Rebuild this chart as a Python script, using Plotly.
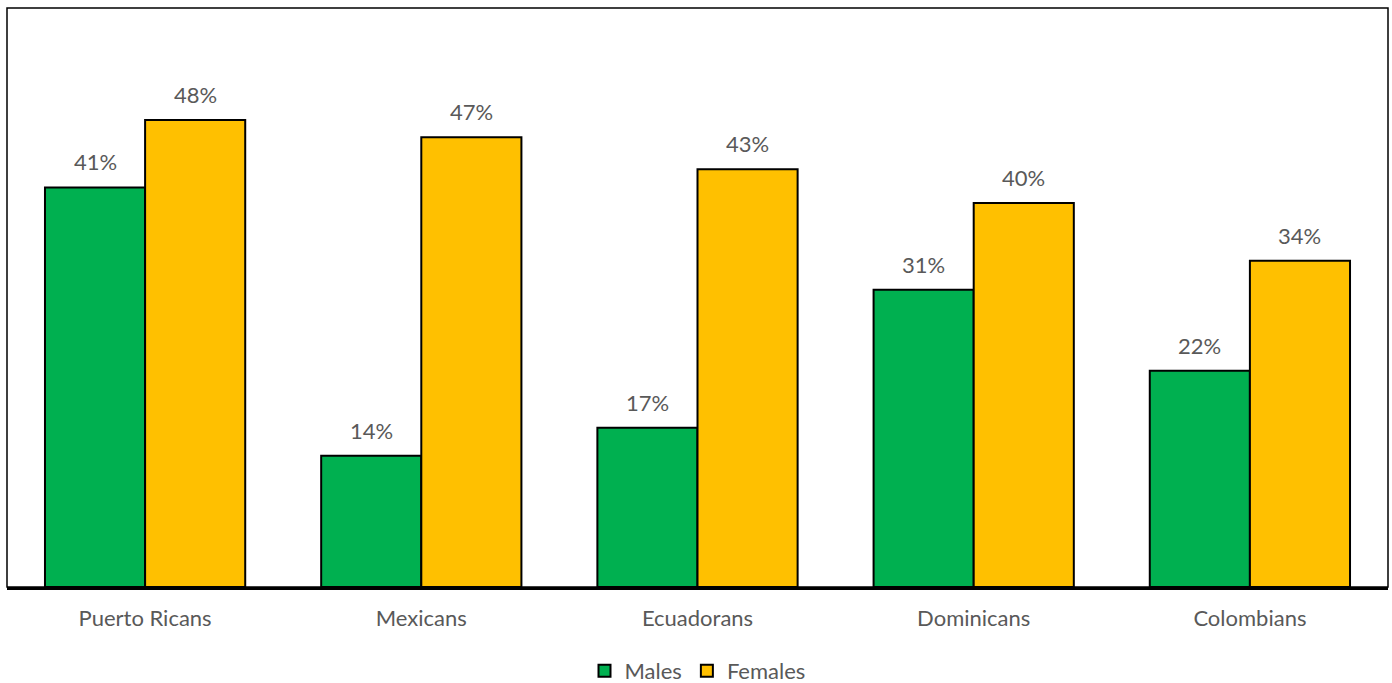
import plotly.graph_objects as go

categories = ["Puerto Ricans", "Mexicans", "Ecuadorans", "Dominicans", "Colombians"]
males = [0.414, 0.136, 0.165, 0.308, 0.224]
females = [0.484, 0.466, 0.433, 0.398, 0.338]
male_labels = ["41%", "14%", "17%", "31%", "22%"]
female_labels = ["48%", "47%", "43%", "40%", "34%"]

FONT = "Lato"
TXT = "#595959"
FS = 22

fig = go.Figure()
fig.add_trace(go.Bar(x=categories, y=males, name="Males", marker=dict(color="#00B050", line=dict(color="black", width=2)),
                     text=male_labels, textposition="none", hoverinfo="skip"))
fig.add_trace(go.Bar(x=categories, y=females, name="Females", marker=dict(color="#FFC000", line=dict(color="black", width=2)),
                     text=female_labels, textposition="none", hoverinfo="skip"))

for i, c in enumerate(categories):
    for vals, labs, xs in ((males, male_labels, -50), (females, female_labels, 50)):
        fig.add_annotation(x=c, y=vals[i], text=labs[i], showarrow=False, xshift=xs, yshift=10,
                           yanchor="bottom", font=dict(family=FONT, size=FS, color=TXT))

fig.add_shape(type="rect", xref="paper", yref="paper", x0=0, x1=1, y0=0, y1=1,
              line=dict(color="black", width=1.5))

fig.update_layout(
    width=1392, height=683,
    margin=dict(l=7, r=4, t=8, b=96, autoexpand=False),
    paper_bgcolor="white", plot_bgcolor="white",
    barmode="group", bargap=0.275, bargroupgap=0,
    font=dict(family=FONT, size=FS, color=TXT),
    showlegend=True,
    legend=dict(orientation="h", x=0.5, xanchor="center", yref="container", y=0.0176, yanchor="middle",
                font=dict(family=FONT, size=FS, color=TXT), itemwidth=30),
    xaxis=dict(showline=True, linecolor="black", linewidth=3, ticks="", showgrid=False, automargin=False,
               tickfont=dict(family=FONT, size=FS, color=TXT), ticklabelstandoff=10),
    yaxis=dict(range=[0, 0.6], showticklabels=False, showgrid=False, zeroline=False, ticks="", automargin=False),
)

fig.write_html("out.html")
